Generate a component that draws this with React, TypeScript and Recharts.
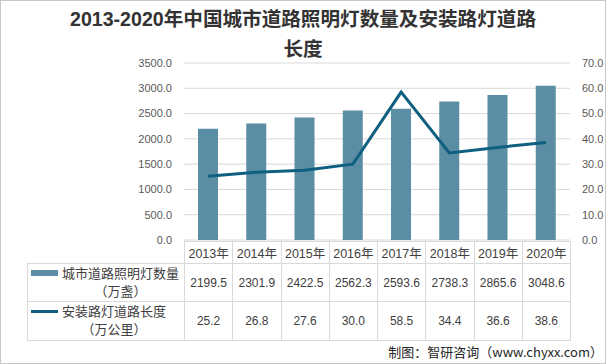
import React from 'react';
import {
  ComposedChart,
  Bar,
  Line,
  XAxis,
  YAxis,
  CartesianGrid,
} from 'recharts';

const years = ['2013年', '2014年', '2015年', '2016年', '2017年', '2018年', '2019年', '2020年'];
const lampCounts = [2199.5, 2301.9, 2422.5, 2562.3, 2593.6, 2738.3, 2865.6, 3048.6];
const roadLengths = [25.2, 26.8, 27.6, 30.0, 58.5, 34.4, 36.6, 38.6];
const leftTicks = [0, 500, 1000, 1500, 2000, 2500, 3000, 3500];
const rightTicks = [0, 10, 20, 30, 40, 50, 60, 70];

const titleLines = ['2013-2020年中国城市道路照明灯数量及安装路灯道路', '长度'];
const barName = ['城市道路照明灯数量', '（万盏）'];
const lineName = ['安装路灯道路长度', '（万公里）'];
const source = '制图：智研咨询（www.chyxx.com）';

const BAR_COLOR = '#5b8ea4';
const LINE_COLOR = '#0f5f80';
const GRID = '#d9d9d9';
const TEXT = '#404040';
const FONT = '"Liberation Sans", "Noto Sans CJK SC", sans-serif';

const data = years.map((year, i) => ({
  year,
  lamps: lampCounts[i],
  length: roadLengths[i],
}));

// plot box, matched to the table below it
const PLOT_LEFT = 184;
const PLOT_RIGHT = 570;
const PLOT_TOP = 63;
const PLOT_BOTTOM = 240;
const COL_W = (PLOT_RIGHT - PLOT_LEFT) / years.length;
const ROW_HEAD = [241, 263];
const ROW_1 = [263, 301];
const ROW_2 = [301, 340];
const TABLE_LEFT = 27;

const cell = (left: number, top: number, width: number, height: number): React.CSSProperties => ({
  position: 'absolute',
  left,
  top,
  width,
  height,
  boxSizing: 'border-box',
  display: 'flex',
  alignItems: 'center',
  justifyContent: 'center',
  fontSize: 12,
  color: TEXT,
  fontFamily: FONT,
});

function LegendLabel({ lines, top, height, swatch }: { lines: string[]; top: number; height: number; swatch: 'bar' | 'line' }) {
  return (
    <div style={{ position: 'absolute', left: TABLE_LEFT, top, width: PLOT_LEFT - TABLE_LEFT, height }}>
      <div
        style={{
          position: 'absolute',
          left: 4,
          top: swatch === 'bar' ? 7 : 9,
          width: 27,
          height: swatch === 'bar' ? 6 : 3,
          background: swatch === 'bar' ? BAR_COLOR : LINE_COLOR,
        }}
      />
      <div
        style={{
          position: 'absolute',
          left: 35,
          top: 1,
          fontSize: 13,
          lineHeight: '18px',
          color: TEXT,
          fontFamily: '"Noto Sans CJK SC", sans-serif',
          textAlign: 'center',
          whiteSpace: 'nowrap',
        }}
      >
        {lines.map((l) => (
          <div key={l}>{l}</div>
        ))}
      </div>
    </div>
  );
}

export default function App() {
  return (
    <div style={{ position: 'absolute', left: 0, top: 0, width: 606, height: 364, background: '#fff', overflow: 'hidden' }}>
      <div
        style={{
          position: 'absolute',
          left: 0,
          top: 4,
          width: 606,
          textAlign: 'center',
          fontSize: 19.6,
          fontWeight: 'bold',
          lineHeight: '30px',
          color: '#333',
          fontFamily: FONT,
        }}
      >
        {titleLines.map((l) => (
          <div key={l}>{l}</div>
        ))}
      </div>

      <div style={{ position: 'absolute', left: 0, top: 0 }}>
        <ComposedChart
          width={606}
          height={364}
          data={data}
          margin={{ top: PLOT_TOP, bottom: 364 - PLOT_BOTTOM, left: PLOT_LEFT - 60, right: 606 - PLOT_RIGHT - 36 }}
        >
          <CartesianGrid vertical={false} stroke={GRID} yAxisId="left" />
          <XAxis dataKey="year" hide />
          <YAxis
            yAxisId="left"
            orientation="left"
            width={60}
            domain={[0, 3500]}
            ticks={leftTicks}
            axisLine={false}
            tickLine={false}
            tickSize={0}
            tickMargin={12}
            tickFormatter={(v: number) => v.toFixed(1)}
            tick={{ fontSize: 11, fill: '#595959', fontFamily: FONT }}
          />
          <YAxis
            yAxisId="right"
            orientation="right"
            width={36}
            domain={[0, 70]}
            ticks={rightTicks}
            axisLine={false}
            tickLine={false}
            tickSize={0}
            tickMargin={12}
            tickFormatter={(v: number) => v.toFixed(1)}
            tick={{ fontSize: 11, fill: '#595959', fontFamily: FONT }}
          />
          <Bar yAxisId="left" dataKey="lamps" fill={BAR_COLOR} barSize={20} isAnimationActive={false} />
          <Line
            yAxisId="right"
            dataKey="length"
            type="linear"
            stroke={LINE_COLOR}
            strokeWidth={3}
            dot={false}
            activeDot={false}
            isAnimationActive={false}
          />
        </ComposedChart>
      </div>

      {/* data table */}
      {years.map((y, i) => (
        <div
          key={y}
          style={{
            ...cell(PLOT_LEFT + i * COL_W, ROW_HEAD[0], COL_W + 1, ROW_HEAD[1] - ROW_HEAD[0] + 1),
            border: `1px solid ${GRID}`,
            fontSize: 12.5,
          }}
        >
          {y}
        </div>
      ))}
      <div style={{ ...cell(TABLE_LEFT, ROW_1[0], PLOT_LEFT - TABLE_LEFT + 1, ROW_1[1] - ROW_1[0] + 1), border: `1px solid ${GRID}` }} />
      <div style={{ ...cell(TABLE_LEFT, ROW_2[0], PLOT_LEFT - TABLE_LEFT + 1, ROW_2[1] - ROW_2[0] + 1), border: `1px solid ${GRID}` }} />
      {lampCounts.map((v, i) => (
        <div
          key={'a' + i}
          style={{
            ...cell(PLOT_LEFT + i * COL_W, ROW_1[0], COL_W + 1, ROW_1[1] - ROW_1[0] + 1),
            border: `1px solid ${GRID}`,
          }}
        >
          {v.toFixed(1)}
        </div>
      ))}
      {roadLengths.map((v, i) => (
        <div
          key={'b' + i}
          style={{
            ...cell(PLOT_LEFT + i * COL_W, ROW_2[0], COL_W + 1, ROW_2[1] - ROW_2[0] + 1),
            border: `1px solid ${GRID}`,
          }}
        >
          {v.toFixed(1)}
        </div>
      ))}
      <LegendLabel lines={barName} top={ROW_1[0]} height={ROW_1[1] - ROW_1[0]} swatch="bar" />
      <LegendLabel lines={lineName} top={ROW_2[0]} height={ROW_2[1] - ROW_2[0]} swatch="line" />

      <div
        style={{
          position: 'absolute',
          right: 3,
          top: 343,
          fontSize: 13,
          lineHeight: '18px',
          color: '#262626',
          fontFamily: '"Noto Sans CJK SC", sans-serif',
          whiteSpace: 'nowrap',
        }}
      >
        {source}
      </div>

      <div
        style={{
          position: 'absolute',
          left: 0,
          top: 0,
          width: 606,
          height: 364,
          boxSizing: 'border-box',
          border: '1px solid #c8c8c8',
          pointerEvents: 'none',
        }}
      />
    </div>
  );
}
